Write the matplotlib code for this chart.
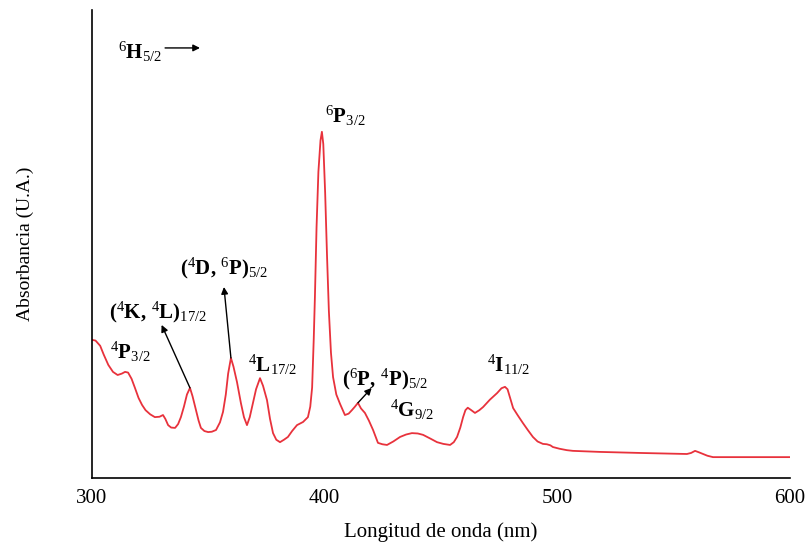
import numpy as np
import matplotlib
matplotlib.use('Agg')
import matplotlib.pyplot as plt

plt.rcParams['font.family'] = 'Liberation Serif'
plt.rcParams['mathtext.fontset'] = 'custom'
plt.rcParams['mathtext.rm'] = 'Liberation Serif'
plt.rcParams['mathtext.it'] = 'Liberation Serif:italic'
plt.rcParams['mathtext.bf'] = 'Liberation Serif:bold'

# absorption spectrum (arbitrary units)
wavelength = [300.0, 301.5, 303.5, 305.0, 307.0, 309.0, 311.0, 312.8, 314.2, 315.5,
              317.0, 318.5, 320.0, 321.5, 323.0, 325.0, 327.0, 329.0, 330.5, 331.5,
              332.7, 334.0, 335.7, 337.0, 338.2, 339.5, 340.8, 342.1, 343.2, 344.7,
              345.8, 346.8, 348.3, 349.9, 351.5, 353.3, 355.0, 356.3, 357.5, 358.5,
              359.7, 360.8, 362.3, 364.0, 365.3, 366.6, 367.8, 369.2, 370.5, 372.2,
              373.5, 375.2, 376.5, 377.8, 379.2, 380.8, 382.5, 384.2, 386.0, 388.1,
              390.7, 392.8, 393.8, 394.6, 395.3, 395.8, 396.5, 397.3, 398.2, 398.8,
              399.4, 400.2, 401.0, 401.8, 402.7, 403.6, 405.0, 406.6, 408.7, 410.3,
              411.7, 413.0, 414.3, 415.6, 417.3, 419.0, 420.8, 422.9, 424.8, 426.8,
              429.5, 432.4, 435.0, 437.5, 440.0, 442.3, 445.5, 448.3, 451.0, 453.9,
              455.5, 456.9, 458.3, 459.5, 460.5, 461.5, 463.0, 464.6, 466.5, 468.1,
              471.0, 474.1, 476.0, 477.5, 478.6, 479.8, 481.0, 483.0, 485.2, 487.3,
              489.5, 491.5, 493.8, 495.5, 497.0, 498.1, 501.0, 504.1, 506.7, 518.3,
              535.5, 555.7, 557.5, 559.2, 560.8, 562.6, 564.5, 566.9, 582.8, 600.0]
absorbance = [0.397, 0.395, 0.380, 0.355, 0.325, 0.305, 0.296, 0.300, 0.305, 0.303,
              0.285, 0.258, 0.230, 0.210, 0.195, 0.183, 0.175, 0.176, 0.181, 0.170,
              0.152, 0.145, 0.144, 0.155, 0.175, 0.205, 0.240, 0.259, 0.235, 0.195,
              0.165, 0.144, 0.135, 0.132, 0.133, 0.138, 0.160, 0.190, 0.240, 0.300,
              0.345, 0.320, 0.276, 0.215, 0.175, 0.152, 0.175, 0.216, 0.255, 0.287,
              0.265, 0.224, 0.170, 0.129, 0.110, 0.103, 0.110, 0.118, 0.135, 0.152,
              0.161, 0.175, 0.205, 0.260, 0.400, 0.520, 0.720, 0.880, 0.970, 0.995,
              0.960, 0.820, 0.640, 0.480, 0.360, 0.290, 0.240, 0.213, 0.181, 0.185,
              0.195, 0.205, 0.216, 0.200, 0.187, 0.165, 0.138, 0.101, 0.097, 0.095,
              0.105, 0.118, 0.125, 0.129, 0.128, 0.124, 0.113, 0.103, 0.098, 0.095,
              0.103, 0.118, 0.145, 0.175, 0.195, 0.202, 0.195, 0.187, 0.195, 0.204,
              0.225, 0.244, 0.258, 0.262, 0.255, 0.228, 0.201, 0.180, 0.158, 0.138,
              0.118, 0.105, 0.098, 0.097, 0.094, 0.089, 0.084, 0.080, 0.078, 0.075,
              0.072, 0.069, 0.072, 0.078, 0.074, 0.069, 0.064, 0.060, 0.060, 0.060]

xticks = [300, 400, 500, 600]

fig = plt.figure(figsize=(8.08, 5.5), dpi=100)
ax = fig.add_axes([0.1139, 0.1309, 0.8638, 0.8509])

ax.plot(wavelength, absorbance, color='#e8323c', lw=1.3)

ax.set_xlim(300, 600)
ax.set_ylim(0, 1.345)
ax.set_xticks(xticks)
ax.set_yticks([])
ax.tick_params(axis='x', length=0, pad=8, labelsize=15)
for s in ['top', 'right']:
    ax.spines[s].set_visible(False)
for s in ['left', 'bottom']:
    ax.spines[s].set_linewidth(1.2)

ax.set_xlabel('Longitud de onda (nm)', fontsize=15, labelpad=10)
ax.set_ylabel('Absorbancia (U.A.)', fontsize=14, labelpad=42)

fs = 15
arr = dict(arrowstyle='-|>', color='black', lw=1.0, mutation_scale=10, shrinkA=0, shrinkB=0)

ax.text(311.0, 1.225, r'$^{6}\mathbf{H}_{5/2}$', fontsize=fs, va='center', ha='left')
ax.annotate('', xy=(346.4, 1.236), xytext=(331.4, 1.236), arrowprops=arr)

ax.text(400.1, 1.04, r'$^{6}\mathbf{P}_{3/2}$', fontsize=fs, va='center', ha='left')
ax.text(337.8, 0.603, r'$\mathbf{(}^{4}\mathbf{D,}\,^{6}\mathbf{P)}_{5/2}$', fontsize=fs, va='center', ha='left')
ax.annotate('', xy=(356.7, 0.549), xytext=(359.7, 0.345), arrowprops=arr)
ax.text(307.3, 0.477, r'$\mathbf{(}^{4}\mathbf{K,}\,^{4}\mathbf{L)}_{17/2}$', fontsize=fs, va='center', ha='left')
ax.annotate('', xy=(329.9, 0.440), xytext=(342.1, 0.259), arrowprops=arr)
ax.text(307.7, 0.362, r'$^{4}\mathbf{P}_{3/2}$', fontsize=fs, va='center', ha='left')
ax.text(367.0, 0.325, r'$^{4}\mathbf{L}_{17/2}$', fontsize=fs, va='center', ha='left')
ax.text(407.5, 0.282, r'$\mathbf{(}^{6}\mathbf{P,}\,^{4}\mathbf{P)}_{5/2}$', fontsize=fs, va='center', ha='left')
ax.annotate('', xy=(420.2, 0.259), xytext=(414.3, 0.216), arrowprops=arr)
ax.text(428.0, 0.195, r'$^{4}\mathbf{G}_{9/2}$', fontsize=fs, va='center', ha='left')
ax.text(469.8, 0.325, r'$^{4}\mathbf{I}_{11/2}$', fontsize=fs, va='center', ha='left')

plt.savefig('out.png', dpi=100)
plt.close()
